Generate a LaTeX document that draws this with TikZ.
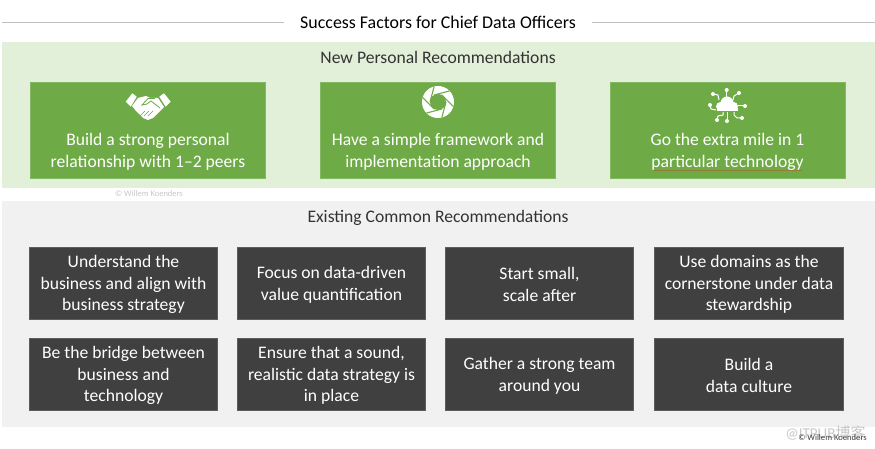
\documentclass[tikz,border=0pt]{standalone}
\usepackage{fontspec}
\setmainfont{Carlito}
\newfontfamily\cjk{Noto Sans CJK SC}
\usetikzlibrary{decorations.pathmorphing}
\definecolor{bandgreen}{HTML}{E2EFD9}
\definecolor{cardgreen}{HTML}{6EAB46}
\definecolor{bandgrey}{HTML}{F1F1F1}
\definecolor{carddark}{HTML}{404040}
\definecolor{rulegrey}{HTML}{BFBFBF}
\tikzset{
	band/.style={draw=none, anchor=north west, inner sep=0pt, minimum width=873pt},
	card/.style={draw=#1!85!white, fill=#1, line width=0.6pt, inner sep=0pt},
	new card/.style={card=cardgreen, minimum width=235pt, minimum height=96.5pt},
	old card/.style={card=carddark, minimum width=188.5pt, minimum height=72.5pt},
	card text/.style={align=center, text=white, font=\fontsize{17.6}{21.8}\selectfont, inner sep=0pt},
	heading/.style={text=black!80, font=\fontsize{17.6}{22}\selectfont, inner sep=0pt},
	icon/.style={fill=white, draw=none},
	spoke/.style={draw=white, line width=1pt}
}
\begin{document}
\begin{tikzpicture}[x=1pt, y=-1pt]
	\useasboundingbox (0,0) rectangle (875,449);

	% title
	\node [font=\fontsize{17.9}{22}\selectfont, inner xsep=16pt, inner ysep=0pt] (title) at (438,22) {Success Factors for Chief Data Officers};
	\coordinate (rule-left) at (2,22);
	\coordinate (rule-right) at (875,22);
	\draw [rulegrey] (rule-left) -- (title.west);
	\draw [rulegrey] (title.east) -- (rule-right);

	% bands
	\node [band, fill=bandgreen, minimum height=146pt] (band-new) at (2,42) {};
	\node [band, fill=bandgrey, minimum height=226pt] (band-old) at (2,201) {};

	% headings
	\node [heading] (heading-new) at (438,57.5) {New Personal Recommendations};
	\node [heading] (heading-old) at (438,217.5) {Existing Common Recommendations};

	% new recommendations
	\foreach \x/\l [count=\i] in {148/{Build a strong personal\\relationship with 1--2 peers},
			438/{Have a simple framework and\\implementation approach},
			727.5/{Go the extra mile in 1\\particular technology}}
	{
		\node [new card] (new-\i) at (\x,130.5) {};
		\node [card text] (newtext-\i) at (\x,152) {\l};
	}

	% existing recommendations
	\foreach \x/\y/\l [count=\i] in {123.5/283.5/{Understand the\\business and align with\\business strategy},
			331.5/283.5/{Focus on data-driven\\value quantification},
			539.5/283.5/{Start small,\\scale after},
			749/283.5/{Use domains as the\\cornerstone under data\\stewardship},
			123.5/374.5/{Be the bridge between\\business and\\technology},
			331.5/374.5/{Ensure that a sound,\\realistic data strategy is\\in place},
			539.5/374.5/{Gather a strong team\\around you},
			749/374.5/{Build a\\data culture}}
	{
		\node [old card] (old-\i) at (\x,\y) {};
		\node [card text] (oldtext-\i) at (\x,\y+1) {\l};
	}

	% spell check mark
	\draw [red!70!cardgreen, line width=0.3pt, opacity=0.75, decorate, decoration={zigzag, amplitude=0.5pt, segment length=2pt}]
		(653,170.5) -- (802,170.5);

	% handshake
	\fill [icon] (125.7,101.7) -- (132.3,93.3) -- (136.7,96.7) -- (130.7,106.7) -- cycle;
	\fill [icon] (170.7,101.7) -- (164,93.3) -- (159.3,96.7) -- (165.7,106.7) -- cycle;
	\fill [icon] (138,98) -- (146,96) -- (150,98) -- (158,98) -- (164,107) -- (153,118)
		-- (148,120) -- (143,118) -- (136,111) -- (132,106) -- cycle;
	\draw [cardgreen, line width=0.8pt] (160,108) -- (151,101) -- (147,104) -- (142,105) -- (148,98.5) -- (155,98.5);
	\foreach \a in {140,144,148}
		\draw [cardgreen, line width=0.7pt] (\a,116) -- ++(5,-5);

	% aperture
	\fill [icon] (438,102) circle (16);
	\foreach \a in {0,60,...,300}
		\draw [cardgreen, line width=1.1pt] (438,102) ++(\a:8) -- ++(\a+105:16);
	\fill [cardgreen] (438,102) circle (8);

	% cloud
	\fill [icon] (727,103) circle (6.5) (720.5,106.5) circle (4.5) (733.5,106.5) circle (4.5);
	\fill [icon] (717,108) rectangle (738,111);
	\foreach \p in {(726.7,90),(739,93),(713,94),(710,105),(745,106),(727,121),(717,120),(742,118)}
		\fill [icon] \p circle (2);
	\draw [spoke] (726.7,90) -- (726.7,98);
	\draw [spoke] (739,93) -- (734,96) -- (733,100);
	\draw [spoke] (713,94) -- (718,95) -- (719,100);
	\draw [spoke] (710,105) -- (711,109) -- (716,110);
	\draw [spoke] (745,106) -- (738,106);
	\draw [spoke] (727,121) -- (727,112);
	\draw [spoke] (717,120) -- (718,116) -- (723,115) -- (723,112);
	\draw [spoke] (742,118) -- (737,118) -- (734,115) -- (734,112);

	% watermarks
	\node [text=black!22, font=\fontsize{8.5}{9}\selectfont, inner sep=0pt] (mark-left) at (149,193.5) {© Willem Koenders};
	\node [text=black!22, font=\fontsize{15}{16}\selectfont, inner sep=0pt] (mark-itpub) at (825.5,433) {@ITPUB{\cjk 博客}};
	\node [text=black!75, font=\fontsize{8.6}{9}\selectfont, inner sep=0pt] (mark-right) at (832.5,437.5) {© Willem Koenders};
\end{tikzpicture}
\end{document}
